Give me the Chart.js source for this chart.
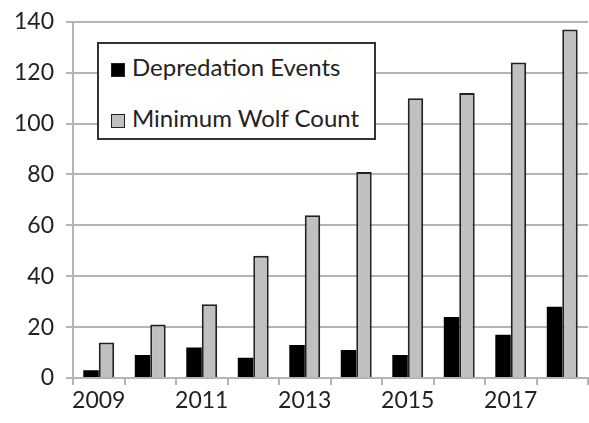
<!DOCTYPE html>
<html>
<head>
<meta charset="utf-8">
<script src="https://cdn.jsdelivr.net/npm/chart.js@4/dist/chart.umd.min.js"></script>
<style>
	html, body { margin: 0; padding: 0; background: #fff; }
	#Wrap { position: relative; width: 589px; height: 423px; overflow: hidden; }
	#WolfChart { position: absolute; left: 0; top: -4px; }
	#Legend {
		position: absolute; left: 97px; top: 42px; width: 275px; height: 94px;
		border: 2px solid #333; background: #fff; font-family: Lato, sans-serif;
		font-size: 24px; color: #222;
	}
	#Legend div { position: absolute; left: 12px; white-space: nowrap; line-height: 28px; }
	#Legend span.box { display: inline-block; width: 14px; height: 14px; margin-right: 7px; box-sizing: border-box; vertical-align: -1px; }
</style>
</head>
<body>
<div id="Wrap">
	<canvas id="WolfChart" width="589" height="427"></canvas>
	<div id="Legend"></div>
</div>
<script>
const years = ["2009", "2010", "2011", "2012", "2013", "2014", "2015", "2016", "2017", "2018"];
const depredation_events = [3, 9, 12, 8, 13, 11, 9, 24, 17, 28];
const wolf_count = [14, 21, 29, 48, 64, 81, 110, 112, 124, 137];
const series_labels = ["Depredation Events", "Minimum Wolf Count"];

const grid_color = "#b4b4b4";
const tick_font = { family: "Lato, sans-serif", size: 23 };

let wolf_chart = new Chart(document.getElementById("WolfChart").getContext("2d"), {
	type: "bar",
	data: {
		labels: years,
		datasets: [
			{
				label: series_labels[0],
				data: depredation_events,
				backgroundColor: "#000",
				borderColor: "#000",
				borderWidth: 0,
			},
			{
				label: series_labels[1],
				data: wolf_count,
				backgroundColor: "#c0c0c0",
				borderColor: "#222",
				borderWidth: 2,
			},
		],
	},
	options: {
		responsive: false,
		animation: false,
		layout: { padding: { top: 17, right: 1, left: 0, bottom: 0 } },
		datasets: { bar: { categoryPercentage: 0.6, barPercentage: 1.0 } },
		scales: {
			y: {
				min: 0,
				max: 140,
				ticks: { stepSize: 20, color: "#222", font: tick_font, padding: 12 },
				grid: { color: grid_color, lineWidth: 2, tickLength: 7 },
				border: { color: grid_color, width: 2 },
				afterFit: (scale) => { scale.width = 73; },
			},
			x: {
				ticks: {
					color: "#222",
					font: tick_font,
					autoSkip: false,
					maxRotation: 0,
					padding: 2,
					callback: function (value, index) {
						return index % 2 === 0 ? years[index] : "";
					},
				},
				grid: { color: grid_color, lineWidth: 2, tickLength: 7, drawOnChartArea: false, offset: true },
				border: { color: grid_color, width: 2 },
				afterFit: (scale) => { scale.height = 45; },
			},
		},
		plugins: {
			legend: { display: false },
			tooltip: { enabled: false },
		},
	},
});

// legend drawn as html inside the plot, like the original
function add_legend() {
	const legend = document.getElementById("Legend");
	const tops = [9, 60];
	wolf_chart.data.datasets.forEach(function (ds, i) {
		let row = document.createElement("div");
		row.style.top = tops[i] + "px";
		let box = document.createElement("span");
		box.className = "box";
		box.style.background = ds.backgroundColor;
		box.style.border = "1.5px solid #222";
		row.appendChild(box);
		row.appendChild(document.createTextNode(ds.label));
		legend.appendChild(row);
	});
}
add_legend();
</script>
</body>
</html>
